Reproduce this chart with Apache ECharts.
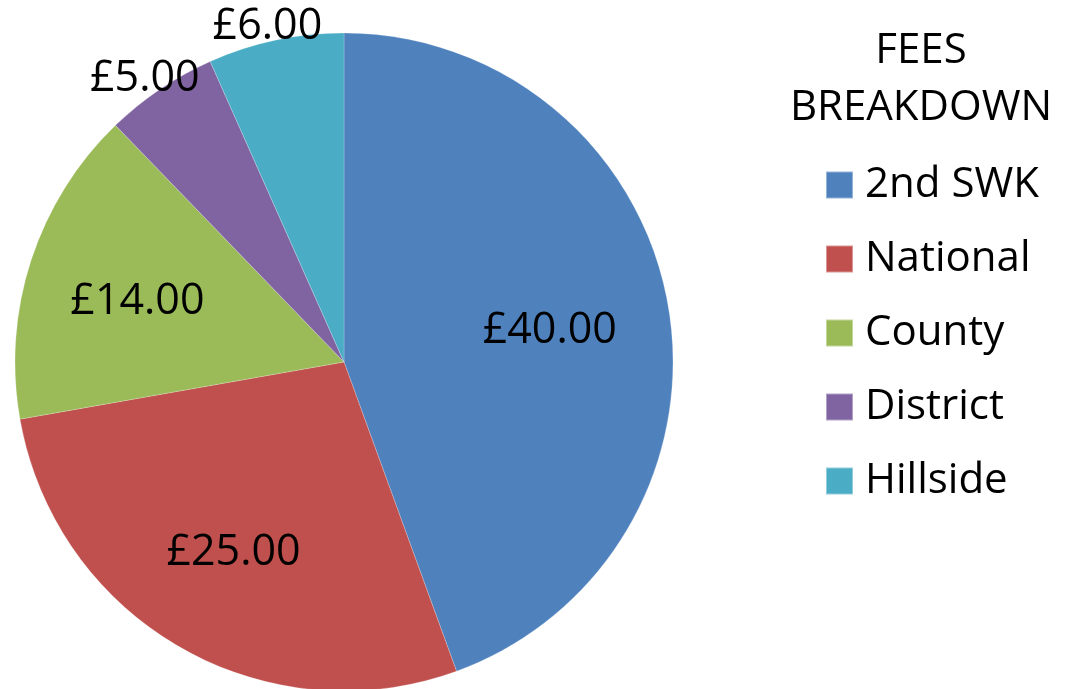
<!DOCTYPE html>
<html>
<head>
<meta charset="utf-8">
<script src="https://cdn.jsdelivr.net/npm/echarts@6/dist/echarts.min.js"></script>
<style>
    html, body { margin: 0; padding: 0; background: #fff; }
    #chart { width: 1068px; height: 689px; }
</style>
</head>
<body>
<div id="chart"></div>
<script>
const categories = ["2nd SWK", "National", "County", "District", "Hillside"];
const fees = [40, 25, 14, 5, 6];
const sliceColors = ["#4F81BD", "#C0504D", "#9BBB59", "#8064A2", "#4BACC6"];
const titleText = "FEES\nBREAKDOWN";
// which labels sit inside the pie, which ride on the rim
const labelInside = [true, true, true, false, false];

const chart = echarts.init(document.getElementById("chart"));
const font = "'Open Sans', 'Liberation Sans', sans-serif";
const center = [344, 362];

function money(value) {
    return "£" + value.toFixed(2);
}

// transparent copy of the pie, only used to place the value labels
function labelSeries(radius, keep) {
    return {
        type: "pie",
        silent: true,
        center: center,
        radius: radius,
        startAngle: 90,
        clockwise: true,
        itemStyle: { color: "transparent" },
        labelLine: { show: false },
        data: categories.map((name, i) => ({
            name: name,
            value: fees[i],
            label: { show: keep(i) }
        })),
        label: {
            position: "inside",
            formatter: p => money(p.value),
            color: "#000",
            fontFamily: font,
            fontSize: 43,
            offset: [-4, 6]
        }
    };
}

chart.setOption({
    animation: false,
    color: sliceColors,
    title: {
        text: titleText,
        left: 921,
        top: 23,
        padding: 0,
        textAlign: "center",
        textStyle: {
            fontFamily: font,
            fontSize: 42,
            fontWeight: "normal",
            color: "#000",
            lineHeight: 57
        }
    },
    legend: {
        orient: "vertical",
        left: 825,
        top: 163,
        padding: 0,
        itemWidth: 27,
        itemHeight: 27,
        itemGap: 30,
        icon: "rect",
        data: categories,
        textStyle: {
            fontFamily: font,
            fontSize: 42,
            color: "#000",
            lineHeight: 44,
            padding: [0, 0, 0, 7]
        }
    },
    series: [
        {
            type: "pie",
            center: center,
            radius: 329,
            startAngle: 90,
            clockwise: true,
            label: { show: false },
            labelLine: { show: false },
            itemStyle: { borderColor: "rgba(255,255,255,0.4)", borderWidth: 0.5 },
            data: categories.map((name, i) => ({ name: name, value: fees[i] }))
        },
        labelSeries([104, 316], i => labelInside[i]),
        labelSeries([330, 362], i => !labelInside[i])
    ]
});
</script>
</body>
</html>
